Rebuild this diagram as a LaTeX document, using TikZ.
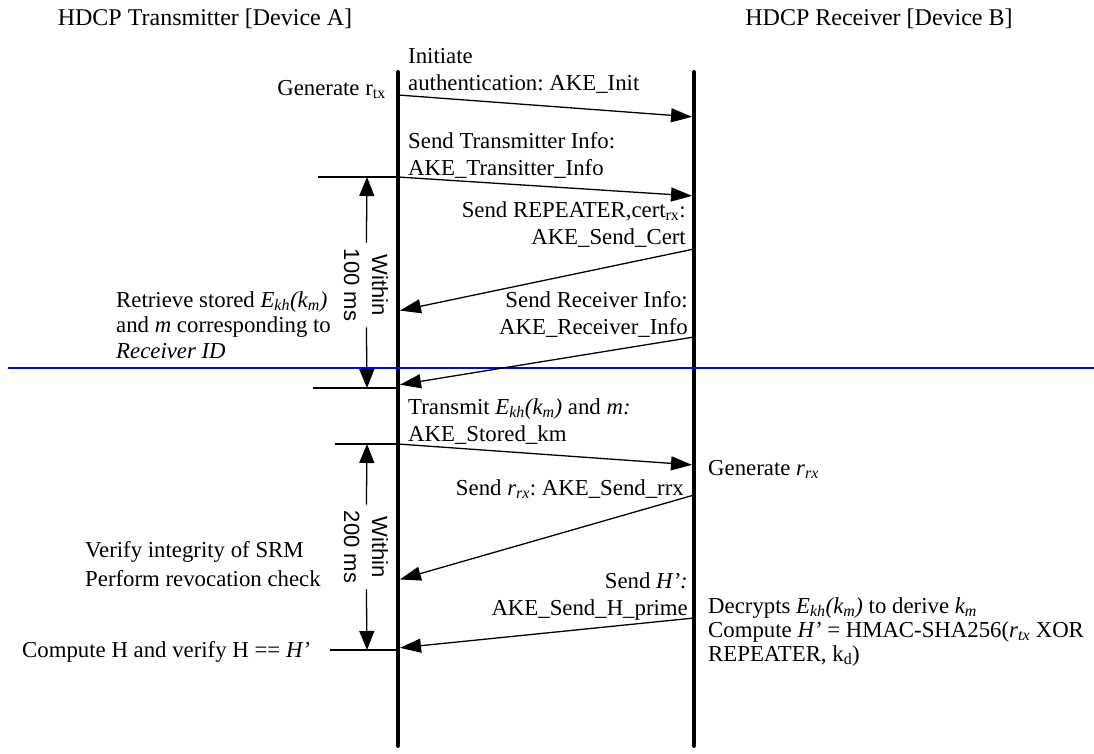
\documentclass[tikz,border=0pt]{standalone}
\usepackage{fontspec}
\setmainfont{Liberation Serif}
\newfontfamily\dimfont{Liberation Sans}
\usetikzlibrary{arrows.meta}
\newcommand{\Ekm}{\textit{E\textsubscript{kh}(k\textsubscript{m})}}
\frenchspacing
\begin{document}
\begin{tikzpicture}[x=1pt,y=-1pt,
  life/.style={line width=4pt, line cap=round},
  msg/.style={line width=1.3pt, shorten >=2pt, -{Triangle[length=21pt,width=14pt]}},
  tickline/.style={line width=1.3pt},
  dimarrow/.style={line width=1.3pt, -{Triangle[length=19pt,width=15pt]}},
  sep/.style={line width=1.6pt, draw={rgb,255:red,0;green,0;blue,255}},
  lbl/.style={inner sep=0pt, font=\fontsize{22.8}{27}\selectfont},
  hdr/.style={inner sep=0pt, font=\fontsize{24}{28}\selectfont},
  dimtxt/.style={inner sep=6pt, rotate=-90, align=center, font=\dimfont\fontsize{22}{28}\selectfont}
]
\useasboundingbox (0,0) rectangle (1094,753);

% headers
\node[hdr, anchor=base] (hA) at (205,25) {HDCP Transmitter [Device A]};
\node[hdr, anchor=base] (hB) at (879,25) {HDCP Receiver [Device B]};

% lifelines
\coordinate (Atop) at (398,72);
\coordinate (Abot) at (398,746);
\coordinate (Btop) at (694,72);
\coordinate (Bbot) at (694,746);
\draw[life] (Atop) -- (Abot);
\draw[life] (Btop) -- (Bbot);

% separator
\coordinate (s1) at (8,368);
\coordinate (s2) at (1094,368);
\draw[sep] (s1) -- (s2);

% message endpoints
\coordinate (a1) at (398,95);  \coordinate (b1) at (694,117);
\coordinate (a2) at (398,177); \coordinate (b2) at (694,196);
\coordinate (b3) at (694,249); \coordinate (a3) at (398,311);
\coordinate (b4) at (694,337); \coordinate (a4) at (398,385);
\coordinate (a5) at (398,444); \coordinate (b5) at (694,465);
\coordinate (b6) at (694,495); \coordinate (a6) at (398,580);
\coordinate (b7) at (694,618); \coordinate (a7) at (398,648);

% ticks
\coordinate (t1) at (318,177);
\coordinate (t2) at (313,388); \coordinate (t2r) at (398,388);
\coordinate (t3) at (335,444);
\coordinate (t4) at (330,650); \coordinate (t4r) at (398,650);
\draw[tickline] (t1) -- (a2);
\draw[tickline] (t2) -- (t2r);
\draw[tickline] (t3) -- (a5);
\draw[tickline] (t4) -- (t4r);

% messages
\draw[msg] (a1) -- (b1);
\draw[msg] (a2) -- (b2);
\draw[msg] (b3) -- (a3);
\draw[msg] (b4) -- (a4);
\draw[msg] (a5) -- (b5);
\draw[msg] (b6) -- (a6);
\draw[msg] (b7) -- (a7);

% message labels
\node[lbl, anchor=base west] (m1) at (408,63) {\begin{tabular}[t]{@{}l@{}}Initiate\\authentication: AKE\_Init\end{tabular}};
\node[lbl, anchor=base west] (m2) at (408,148) {\begin{tabular}[t]{@{}l@{}}Send Transmitter Info:\\AKE\_Transitter\_Info\end{tabular}};
\node[lbl, anchor=base east] (m3) at (686,217) {\begin{tabular}[t]{@{}r@{}}Send REPEATER,cert\textsubscript{rx}:\\AKE\_Send\_Cert\end{tabular}};
\node[lbl, anchor=base east] (m4) at (688,307) {\begin{tabular}[t]{@{}r@{}}Send Receiver Info:\\AKE\_Receiver\_Info\end{tabular}};
\node[lbl, anchor=base west] (m5) at (408,414) {\begin{tabular}[t]{@{}l@{}}Transmit \Ekm{} and \textit{m:}\\AKE\_Stored\_km\end{tabular}};
\node[lbl, anchor=base east] (m6) at (684,495) {Send \textit{r\textsubscript{rx}}: AKE\_Send\_rrx};
\node[lbl, anchor=base east] (m7) at (688,588) {\begin{tabular}[t]{@{}r@{}}Send \textit{H’:}\\AKE\_Send\_H\_prime\end{tabular}};

% side notes
\node[lbl, anchor=base east] (n1) at (386,95) {Generate r\textsubscript{tx}};
\node[lbl, anchor=base west, font=\fontsize{22.8}{25.5}\selectfont] (n2) at (116,307) {\begin{tabular}[t]{@{}l@{}}Retrieve stored \Ekm\\and \textit{m} corresponding to\\\textit{Receiver ID}\end{tabular}};
\node[lbl, anchor=base west] (n3) at (708,475) {Generate \textit{r\textsubscript{rx}}};
\node[lbl, anchor=base west, font=\fontsize{22.8}{29}\selectfont] (n4) at (85,557) {\begin{tabular}[t]{@{}l@{}}Verify integrity of SRM\\Perform revocation check\end{tabular}};
\node[lbl, anchor=base west] (n5) at (22,657) {Compute H and verify H == \textit{H’}};
\node[lbl, anchor=base west, font=\fontsize{22.8}{24}\selectfont] (n6) at (708,613) {\begin{tabular}[t]{@{}l@{}}Decrypts \Ekm{} to derive \textit{k\textsubscript{m}}\\Compute \textit{H’} = HMAC-SHA256(\textit{r\textsubscript{tx}} XOR\\REPEATER, k\textsubscript{d})\end{tabular}};

% timing constraints
\coordinate (d1t) at (367,177); \coordinate (d1b) at (367,388);
\coordinate (d2t) at (367,444); \coordinate (d2b) at (367,650);
\node[dimtxt] (w1) at (366,285) {Within\\100 ms};
\node[dimtxt] (w2) at (366,547) {Within\\200 ms};
\draw[dimarrow] (w1) -- (d1t);
\draw[dimarrow] (w1) -- (d1b);
\draw[dimarrow] (w2) -- (d2t);
\draw[dimarrow] (w2) -- (d2b);
\end{tikzpicture}
\end{document}
